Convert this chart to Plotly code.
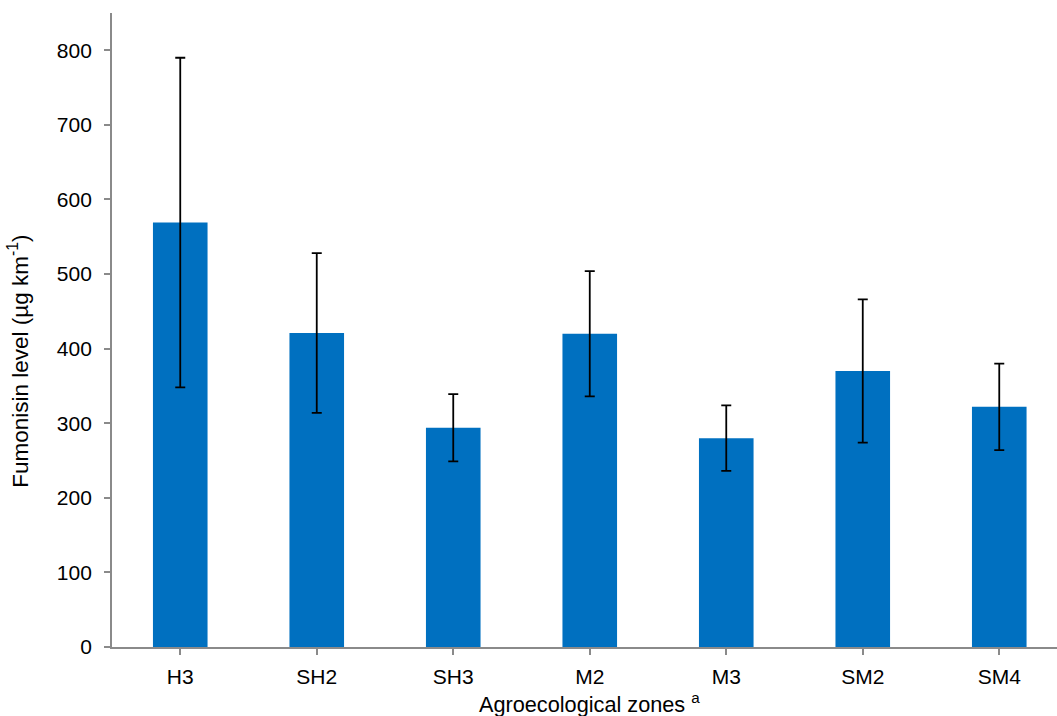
import plotly.graph_objects as go

# Mean fumonisin level per agroecological zone, with symmetric error bars
zones = ["H3", "SH2", "SH3", "M2", "M3", "SM2", "SM4"]
fumonisin = [569, 421, 294, 420, 280, 370, 322]
error = [221, 107, 45, 84, 44, 96, 58]
y_ticks = [0, 100, 200, 300, 400, 500, 600, 700, 800]

FONT = "Liberation Sans, Arial, Helvetica, sans-serif"
AXIS_GREY = "#8a8a8a"

fig = go.Figure(
    go.Bar(
        x=list(range(len(zones))),
        y=fumonisin,
        marker=dict(color="#0070C0", line=dict(width=0)),
        error_y=dict(type="data", array=error, visible=True,
                     color="black", thickness=1.8, width=5),
    )
)

fig.update_layout(
    width=1057,
    height=716,
    margin=dict(l=112, r=0, t=13, b=69),
    plot_bgcolor="white",
    paper_bgcolor="white",
    bargap=0.6,
    showlegend=False,
    font=dict(family=FONT, size=21, color="black"),
    xaxis=dict(
        range=[-0.5, 6.423],
        tickmode="array",
        tickvals=list(range(len(zones))),
        ticktext=zones,
        tickson="boundaries",
        ticks="outside",
        ticklen=6,
        tickwidth=1.5,
        tickcolor=AXIS_GREY,
        showline=True,
        linecolor=AXIS_GREY,
        linewidth=1.8,
        showgrid=False,
        zeroline=False,
        ticklabelstandoff=4,
        tickfont=dict(family=FONT, size=21, color="black"),
    ),
    yaxis=dict(
        range=[0, 850],
        tickmode="array",
        tickvals=y_ticks,
        ticktext=[str(v) for v in y_ticks],
        ticks="outside",
        ticklen=6,
        tickwidth=1.5,
        tickcolor=AXIS_GREY,
        showline=True,
        linecolor=AXIS_GREY,
        linewidth=1.8,
        showgrid=False,
        zeroline=False,
        ticklabelstandoff=8,
        tickfont=dict(family=FONT, size=21, color="black"),
    ),
    annotations=[
        dict(
            text="Agroecological zones <sup>a</sup>",
            xref="x", yref="paper",
            x=3, y=0, yshift=-40,
            xanchor="center", yanchor="top",
            showarrow=False,
            font=dict(family=FONT, size=21.7, color="black"),
        ),
        dict(
            text="Fumonisin level (µg km<sup>-1</sup>)",
            xref="paper", yref="paper",
            x=0, xshift=-94, y=0.45,
            xanchor="center", yanchor="middle",
            textangle=-90,
            showarrow=False,
            font=dict(family=FONT, size=22.5, color="black"),
        ),
    ],
)

fig.write_html("out.html")
